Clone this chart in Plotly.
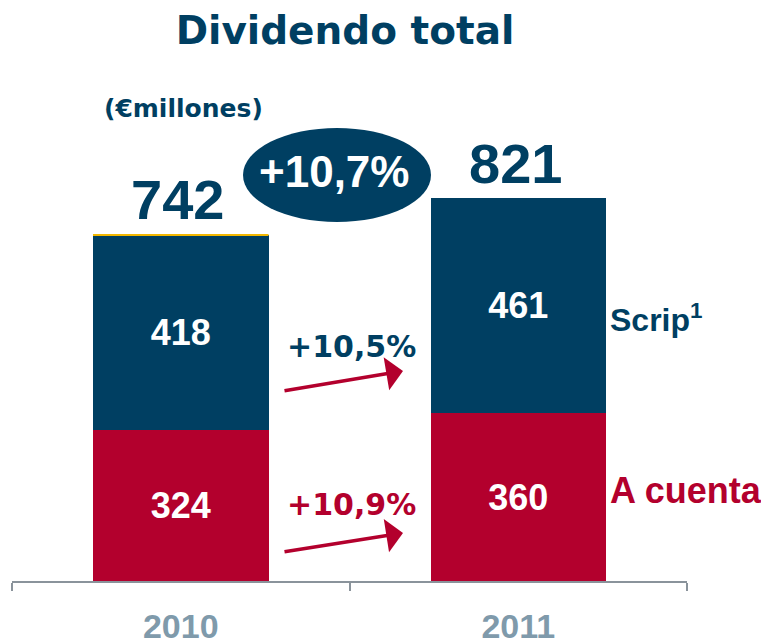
import plotly.graph_objects as go

years = ["2010", "2011"]
a_cuenta = [324, 360]
scrip = [418, 461]
totals = [a + s for a, s in zip(a_cuenta, scrip)]
growth_total = "+10,7%"
growth_scrip = "+10,5%"
growth_cuenta = "+10,9%"

NAVY = "#003F62"
RED = "#B3002D"
GREY = "#7F9AAB"
ARIAL = "Liberation Sans, Arial, sans-serif"
WIDE = "DejaVu Sans, Verdana, sans-serif"

# page has an 8px body margin at top/left
OFF = 8
W, H = 769 - OFF, 638 - OFF
L, T = 4, 60
PW, PH = 675, 513
R, B = W - L - PW, H - T - PH


def px(x):
    return (x - OFF - L) / PW


def py(y):
    return (T + PH - (y - OFF)) / PH


fig = go.Figure()
fig.add_trace(go.Bar(
    x=years, y=a_cuenta, name="A cuenta", marker=dict(color=RED, line=dict(width=0)),
    width=0.52, text=[str(v) for v in a_cuenta], textposition="inside",
    insidetextanchor="middle", textangle=0, constraintext="none",
    textfont=dict(family=ARIAL, size=36, color="white", weight="bold"),
))
fig.add_trace(go.Bar(
    x=years, y=scrip, name="Scrip", marker=dict(color=NAVY, line=dict(width=0)),
    width=0.52, text=[str(v) for v in scrip], textposition="inside",
    insidetextanchor="middle", textangle=0, constraintext="none",
    textfont=dict(family=ARIAL, size=36, color="white", weight="bold"),
))

# thin accent line on top of the 2010 bar
fig.add_shape(type="line", xref="x", yref="y", x0=-0.26, x1=0.26, y0=totals[0], y1=totals[0],
              line=dict(color="#F2B700", width=2))

annotations = []
for i, tot in enumerate(totals):
    annotations.append(dict(x=i, y=tot, xref="x", yref="y", text=f"<b>{tot}</b>",
                            showarrow=False, xanchor="center", yanchor="middle", yshift=35, xshift=-3,
                            font=dict(family=ARIAL, size=56, color=NAVY)))


def label(x, y, text, family, size, color, xanchor="center"):
    return dict(x=px(x), y=py(y), xref="paper", yref="paper", text=text, showarrow=False,
                xanchor=xanchor, yanchor="middle", font=dict(family=family, size=size, color=color))


annotations += [
    label(183, 108, "<b>(€millones)</b>", WIDE, 25, NAVY),
    label(334, 171, f"<b>{growth_total}</b>", ARIAL, 44, "white"),
    label(351, 346, f"<b>{growth_scrip}</b>", WIDE, 30, NAVY),
    label(351, 504, f"<b>{growth_cuenta}</b>", WIDE, 30, RED),
    label(608, 318, "<b>Scrip<sup>1</sup></b>", ARIAL, 32, NAVY, "left"),
    label(608, 490, "<b>A cuenta</b>", ARIAL, 36, RED, "left"),
    dict(x=px(403), y=py(371), xref="paper", yref="paper", text="", showarrow=True,
         ax=-120, ay=20, arrowhead=1, arrowsize=1.6, arrowwidth=3.5, arrowcolor=RED),
    dict(x=px(403), y=py(533), xref="paper", yref="paper", text="", showarrow=True,
         ax=-120, ay=19, arrowhead=1, arrowsize=1.6, arrowwidth=3.5, arrowcolor=RED),
]

fig.add_shape(type="circle", xref="paper", yref="paper",
              x0=px(243), x1=px(431), y0=py(222), y1=py(128),
              fillcolor=NAVY, line=dict(width=0), layer="below")

fig.update_layout(
    width=W, height=H,
    margin=dict(l=L, r=R, t=T, b=B, autoexpand=False),
    barmode="stack",
    showlegend=False,
    plot_bgcolor="white", paper_bgcolor="white",
    title=dict(text="<b>Dividendo total</b>", xref="container", yref="container",
               x=(345 - OFF) / W, y=1 - (30 - OFF) / H, xanchor="center", yanchor="middle",
               font=dict(family=WIDE, size=39, color=NAVY)),
    annotations=annotations,
    xaxis=dict(range=[-0.5, 1.5], showline=True, linecolor="#8A939B", linewidth=2,
               ticks="outside", tickson="boundaries", ticklen=8, tickwidth=2, tickcolor="#8A939B",
               tickfont=dict(family=ARIAL, size=34, color=GREY, weight="bold"),
               ticklabelstandoff=14, showgrid=False, zeroline=False, automargin=False),
    yaxis=dict(range=[0, 1100], visible=False, showgrid=False, zeroline=False, automargin=False),
)

fig.write_html("out.html")
